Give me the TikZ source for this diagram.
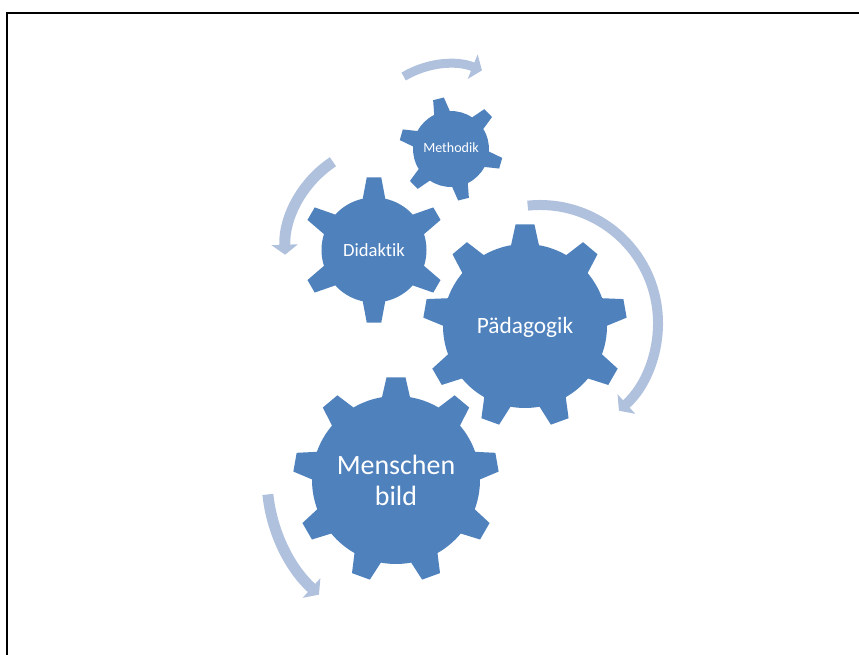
\documentclass[tikz,border=0pt]{standalone}
\usepackage{fontspec}
\setmainfont{Carlito}[Ligatures=NoCommon]
\usepackage{tikz}
\usetikzlibrary{arrows.meta}
\definecolor{gearblue}{RGB}{79,129,189}
\definecolor{turnblue}{RGB}{176,193,222}
\tikzstyle{gear}=[fill=gearblue]
\tikzstyle{turn}=[draw=turnblue, line width=0.22cm, -{Triangle[width=0.52cm,length=0.2cm]}]
\tikzstyle{gtext}=[text=white, align=center, inner sep=0pt]
% centre, teeth, body radius, tip radius, base half angle, tip half angle, rotation
\newcommand{\gearshape}[7]{%
  \begin{scope}[shift={#1}]
  \fill[gear] ({#7-#5}:#3)
    \foreach \k in {1,...,#2}{
      -- ({#7+(\k-1)*360/#2-#6}:#4) -- ({#7+(\k-1)*360/#2+#6}:#4)
      -- ({#7+(\k-1)*360/#2+#5}:#3)
      arc[start angle={#7+(\k-1)*360/#2+#5}, end angle={#7+\k*360/#2-#5}, radius=#3]
    } -- cycle;
  \end{scope}}

\begin{document}
\begin{tikzpicture}[x=0.02cm, y=-0.02cm]
\useasboundingbox (0,0) rectangle (859,655);
\draw[line width=0.04cm] (7,655) -- (7,13) -- (859,13);
% turning arrows
\coordinate (mturn) at (449,152);
\coordinate (dturn) at (392,251);
\coordinate (pturn) at (540,323);
\coordinate (bturn) at (424,478);
\draw[turn, line width=0.18cm] (mturn) ++(-121:88) arc[start angle=-121, end angle=-68, radius=88];
\draw[turn] (dturn) ++(236.5:107) arc[start angle=236.5, end angle=178, radius=107];
\draw[turn, line width=0.2cm] (pturn) ++(-96:118) arc[start angle=-96, end angle=48, radius=118];
\draw[turn] (bturn) ++(174:157) arc[start angle=174, end angle=132, radius=157];
% gears
\gearshape{(451,149)}{6}{38}{52}{12.2}{6.1}{16}
\gearshape{(374,250)}{6}{52.5}{73}{12.4}{5.7}{30}
\gearshape{(525,326)}{9}{82}{102}{9.8}{5.3}{30}
\gearshape{(396,480)}{9}{84}{103}{9.6}{5.3}{30}
\node[gtext, font=\fontsize{8}{9.6}\selectfont] (methodik) at (451,148) {Methodik};
\node[gtext, font=\fontsize{10.6}{12.7}\selectfont] (didaktik) at (374,250) {Didaktik};
\node[gtext, font=\fontsize{13.3}{16}\selectfont] (paedagogik) at (525,327) {Pädagogik};
\node[gtext, font=\fontsize{15.9}{17.6}\selectfont] (menschenbild) at (396,480) {Menschen\\bild};
\end{tikzpicture}
\end{document}
